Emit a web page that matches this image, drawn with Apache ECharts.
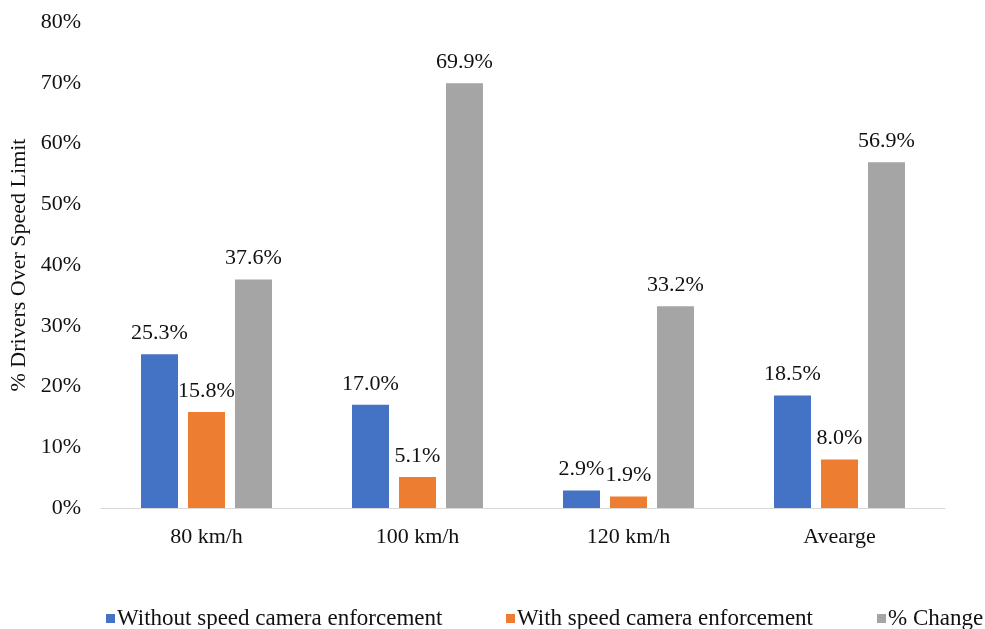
<!DOCTYPE html>
<html>
<head>
<meta charset="utf-8">
<style>
  html, body { margin: 0; padding: 0; background: #fff; }
  #chart { width: 985px; height: 629px; }
</style>
<script src="https://cdn.jsdelivr.net/npm/echarts@6/dist/echarts.min.js"></script>
</head>
<body>
<div id="chart"></div>
<script>
// Share of drivers over the speed limit, by posted limit
const categories = ['80 km/h', '100 km/h', '120 km/h', 'Avearge'];
const withoutCamera = [25.3, 17.0, 2.9, 18.5];
const withCamera = [15.8, 5.1, 1.9, 8.0];
const pctChange = [37.6, 69.9, 33.2, 56.9];
const seriesNames = ['Without speed camera enforcement', 'With speed camera enforcement', '% Change'];
const colors = ['#4472C4', '#ED7D31', '#A5A5A5'];

const FONT = "'Liberation Serif', 'Times New Roman', serif";
const TEXT = '#111';

const chart = echarts.init(document.getElementById('chart'), null, { renderer: 'canvas' });

function barSeries(name, data, color) {
  return {
    name: name,
    type: 'bar',
    data: data,
    barWidth: 37,
    barGap: '27%',
    itemStyle: { color: color },
    label: {
      show: true,
      position: 'top',
      distance: 10,
      fontFamily: FONT,
      fontSize: 22,
      color: TEXT,
      formatter: p => p.value.toFixed(1) + '%'
    },
    emphasis: { disabled: true }
  };
}

function legendAt(name, left) {
  return {
    data: [name],
    left: left,
    top: 607,
    padding: 0,
    itemWidth: 9,
    itemHeight: 9,
    itemGap: 0,
    icon: 'rect',
    textStyle: { fontFamily: FONT, fontSize: 23, color: TEXT, padding: [0, 0, 0, -3] },
    selectedMode: false
  };
}

chart.setOption({
  animation: false,
  backgroundColor: '#fff',
  grid: { left: 101, right: 40, top: 22, bottom: 121, containLabel: false, outerBoundsMode: 'none' },
  legend: [
    legendAt(seriesNames[0], 106),
    legendAt(seriesNames[1], 506),
    legendAt(seriesNames[2], 877)
  ],
  xAxis: {
    type: 'category',
    data: categories,
    axisLine: { show: true, lineStyle: { color: '#D9D9D9', width: 1 } },
    axisTick: { show: false },
    axisLabel: { fontFamily: FONT, fontSize: 22, color: TEXT, margin: 18 }
  },
  yAxis: {
    type: 'value',
    min: 0,
    max: 80,
    interval: 10,
    name: '% Drivers Over Speed Limit',
    nameLocation: 'middle',
    nameGap: 68,
    nameRotate: 90,
    nameTextStyle: { fontFamily: FONT, fontSize: 22, color: TEXT },
    axisLine: { show: false },
    axisTick: { show: false },
    splitLine: { show: false },
    axisLabel: { fontFamily: FONT, fontSize: 22, color: TEXT, margin: 20, formatter: '{value}%' }
  },
  series: [
    barSeries(seriesNames[0], withoutCamera, colors[0]),
    barSeries(seriesNames[1], withCamera, colors[1]),
    barSeries(seriesNames[2], pctChange, colors[2])
  ]
});
</script>
</body>
</html>
